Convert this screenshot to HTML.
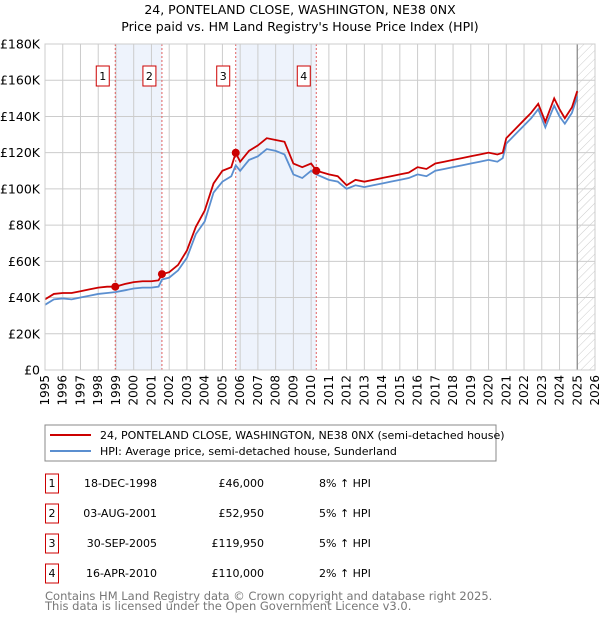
<!DOCTYPE html>
<html><head><meta charset="utf-8"><style>
body{margin:0;background:#fff;font-family:"Liberation Sans","DejaVu Sans",sans-serif}
svg text{font-family:"DejaVu Sans","Liberation Sans",sans-serif}
</style></head><body>
<svg id="c" width="600" height="620" xmlns="http://www.w3.org/2000/svg">
<defs><pattern id="hatch" width="6" height="6" patternUnits="userSpaceOnUse" patternTransform="rotate(45)"><line x1="0" y1="0" x2="0" y2="6" stroke="#ccc" stroke-width="1"/></pattern></defs>
<text x="300" y="14" text-anchor="middle" font-size="12.5">24, PONTELAND CLOSE, WASHINGTON, NE38 0NX</text>
<text x="300" y="31" text-anchor="middle" font-size="12.5">Price paid vs. HM Land Registry's House Price Index (HPI)</text>
<g id="plot"></g>
<rect x="45" y="425" width="451" height="36" fill="#fff" stroke="#888"/>
<line x1="50" y1="435" x2="91" y2="435" stroke="#cc0000" stroke-width="2"/>
<text x="100" y="439" font-size="11">24, PONTELAND CLOSE, WASHINGTON, NE38 0NX (semi-detached house)</text>
<line x1="50" y1="451" x2="91" y2="451" stroke="#5b8fd0" stroke-width="2"/>
<text x="100" y="455" font-size="11">HPI: Average price, semi-detached house, Sunderland</text>
<g id="table" font-size="11"></g>
<text x="45" y="600" font-size="11.5" fill="#777">Contains HM Land Registry data © Crown copyright and database right 2025.</text>
<text x="45" y="610" font-size="11.5" fill="#777">This data is licensed under the Open Government Licence v3.0.</text>
</svg>
<script>
const yearTicks=[1995,1996,1997,1998,1999,2000,2001,2002,2003,2004,2005,2006,2007,2008,2009,2010,2011,2012,2013,2014,2015,2016,2017,2018,2019,2020,2021,2022,2023,2024,2025,2026];
const valueTicks=[0,20000,40000,60000,80000,100000,120000,140000,160000,180000];
const valueLabels=["£0","£20K","£40K","£60K","£80K","£100K","£120K","£140K","£160K","£180K"];
const hpiYears=[1995,1995.5,1996,1996.5,1997,1997.5,1998,1998.5,1998.96,1999.5,2000,2000.5,2001,2001.4,2001.6,2002,2002.5,2003,2003.5,2004,2004.5,2005,2005.5,2005.75,2006,2006.5,2007,2007.5,2008,2008.5,2009,2009.5,2010,2010.3,2011,2011.5,2012,2012.5,2013,2013.5,2014,2014.5,2015,2015.5,2016,2016.5,2017,2017.5,2018,2018.5,2019,2019.5,2020,2020.5,2020.8,2021,2021.5,2022,2022.4,2022.8,2023.2,2023.7,2024,2024.3,2024.7,2025];
const hpiValues=[36000,39000,39500,39000,40000,41000,42000,42500,43000,44000,45000,45500,45500,46000,50000,51000,55000,62000,75000,82000,98000,104000,107000,113000,110000,116000,118000,122000,121000,119000,108000,106000,110000,108000,105000,104000,100000,102000,101000,102000,103000,104000,105000,106000,108000,107000,110000,111000,112000,113000,114000,115000,116000,115000,117000,125000,130000,135000,139000,144000,134000,146000,140000,136000,142000,151000];
const priceValues=[39000,42000,42500,42500,43500,44500,45500,46000,46000,47500,48500,49000,49000,49500,52950,54000,58000,66000,79000,88000,103000,110000,112000,119950,115000,121000,124000,128000,127000,126000,114000,112000,114000,110000,108000,107000,102000,105000,104000,105000,106000,107000,108000,109000,112000,111000,114000,115000,116000,117000,118000,119000,120000,119000,120000,128000,133000,138000,142000,147000,137000,150000,144000,139000,145000,154000];
const saleYears=[1998.96,2001.59,2005.75,2010.29];
const salePrices=[46000,52950,119950,110000];
const saleLabels=["1","2","3","4"];
const saleDates=["18-DEC-1998","03-AUG-2001","30-SEP-2005","16-APR-2010"];
const salePriceText=["£46,000","£52,950","£119,950","£110,000"];
const saleHpiText=["8% ↑ HPI","5% ↑ HPI","5% ↑ HPI","2% ↑ HPI"];
const NS="http://www.w3.org/2000/svg";
const X0=45,X1=595,Y0=370,Y1=44;
const xs=y=>X0+(y-1995)/(2026-1995)*(X1-X0);
const ys=v=>Y0-v/180000*(Y0-Y1);
const plot=document.getElementById('plot');
function mk(tag,attrs,parent){const e=document.createElementNS(NS,tag);for(const k in attrs)e.setAttribute(k,attrs[k]);(parent||plot).appendChild(e);return e;}
// shading
for(let i=0;i<saleYears.length;i+=2){
 const r=mk('rect',{x:xs(saleYears[i]),y:Y1,width:xs(saleYears[i+1])-xs(saleYears[i]),height:Y0-Y1,fill:'#eef3fc'});
 
 
}
const hatch=mk('rect',{x:xs(2025),y:Y1,width:X1-xs(2025),height:Y0-Y1,fill:'url(#hatch)'});


// grid
yearTicks.forEach(t=>{
 const l=mk('line',{x1:xs(t),x2:xs(t),y1:Y1,y2:Y0,stroke:'#cccccc'});
 
 
 const x=xs(t);
 const tx=mk('text',{x:0,y:0,transform:`translate(${x+4},${Y0+5}) rotate(-90)`,'text-anchor':'end','font-size':'12'});
 tx.textContent=t;
 
 
});
valueTicks.forEach((v,i)=>{
 const l=mk('line',{x1:X0,x2:X1,y1:ys(v),y2:ys(v),stroke:'#cccccc'});
 
 
 const tx=mk('text',{x:40,y:ys(v)+4.5,'text-anchor':'end','font-size':'12.5'});
 tx.textContent=valueLabels[i];
 
 
});
const nowLine=mk('line',{x1:xs(2025),x2:xs(2025),y1:Y1,y2:Y0,stroke:'#888','stroke-width':1.2});


// sale vertical lines
saleYears.forEach((s,i)=>{
 const l=mk('line',{x1:xs(s),x2:xs(s),y1:Y1,y2:Y0,stroke:'#e06060','stroke-dasharray':'2,2'});
 
 
 const r=mk('rect',{x:xs(s)-19,y:66,width:13,height:20,fill:'#fff',stroke:'#cc0000'});
 
 
 const t=mk('text',{x:xs(s)-12.5,y:80,'text-anchor':'middle','font-size':'11'});
 t.textContent=saleLabels[i];
 
 
});
const hp=mk('polyline',{points:hpiYears.map((y,i)=>xs(y)+','+ys(hpiValues[i])).join(' '),fill:'none',stroke:'#5b8fd0','stroke-width':1.8});


const pp=mk('polyline',{points:hpiYears.map((y,i)=>xs(y)+','+ys(priceValues[i])).join(' '),fill:'none',stroke:'#cc0000','stroke-width':1.8});


saleYears.forEach((s,i)=>{
 const c=mk('circle',{cx:xs(s),cy:ys(salePrices[i]),r:4,fill:'#cc0000'});
 
 
});
const frame=mk('rect',{x:X0,y:Y1,width:X1-X0,height:Y0-Y1,fill:'none',stroke:'#cccccc'});


// table
const tb=document.getElementById('table');
saleLabels.forEach((lab,i)=>{
 const cy=483+i*30;
 const r=mk('rect',{x:45.5,y:cy-9,width:13,height:19,fill:'#fff',stroke:'#cc0000'},tb);
 
 
 const t=mk('text',{x:52,y:cy+4,'text-anchor':'middle'},tb);t.textContent=lab;
 
 
 const d=mk('text',{x:157,y:cy+4,'text-anchor':'end'},tb);d.textContent=saleDates[i];
 
 
 const p=mk('text',{x:264,y:cy+4,'text-anchor':'end'},tb);p.textContent=salePriceText[i];
 
 
 const h=mk('text',{x:319,y:cy+4},tb);h.textContent=saleHpiText[i];
 
 
});
</script>
</body></html>
